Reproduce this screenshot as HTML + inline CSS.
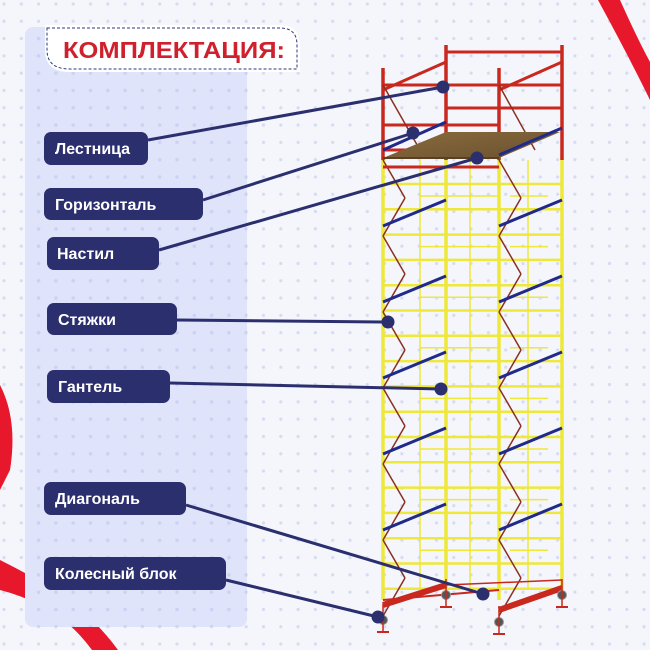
<!DOCTYPE html>
<html><head><meta charset="utf-8"><style>
html,body{margin:0;padding:0;background:#f4f6fc;}
svg{display:block}
</style></head><body>
<svg id="s" width="650" height="650" viewBox="0 0 650 650" xmlns="http://www.w3.org/2000/svg">
<defs>
<pattern id="dots" width="17.3" height="17.3" patternUnits="userSpaceOnUse"><circle cx="4" cy="4" r="1.6" fill="#d6dbf1"/></pattern>
<pattern id="dots2" width="17.3" height="17.3" patternUnits="userSpaceOnUse"><circle cx="4" cy="4" r="1.8" fill="#c6cdf0"/></pattern>
<linearGradient id="wood" x1="0" y1="0" x2="1" y2="1"><stop offset="0" stop-color="#8a6a3c"/><stop offset="1" stop-color="#6a5230"/></linearGradient>
</defs>
<rect width="650" height="650" fill="#f4f6fc"/>
<rect width="650" height="650" fill="url(#dots)"/>
<path d="M598 0 L620 0 Q638 40 650 62 L650 100 Q628 55 598 0Z" fill="#e8182c"/>
<path d="M0 385 Q18 420 10 470 L0 490Z" fill="#e8182c"/>
<path d="M0 560 Q40 580 70 600 Q100 625 118 650 L92 650 Q70 620 40 605 Q20 595 0 590Z" fill="#e8182c"/>
<rect x="25" y="27" width="222" height="600" rx="8" fill="#dfe4fb"/>
<rect x="25" y="27" width="222" height="600" rx="8" fill="url(#dots2)" opacity="0.8"/>
<path d="M45 25 L280 25 Q300 25 300 45 L300 72 L70 72 Q45 72 45 50Z" fill="#fff"/>
<path d="M47 28 L280 28 Q297 28 297 45 L297 69 L70 69 Q47 69 47 50Z" fill="none" stroke="#2c3a7a" stroke-width="1" stroke-dasharray="3,2"/>
<text x="63" y="58" font-family="Liberation Sans, sans-serif" font-weight="bold" font-size="23" fill="#d0202e" textLength="222" lengthAdjust="spacingAndGlyphs">КОМПЛЕКТАЦИЯ:</text>
<g id="scaf"></g>
<g id="lines" stroke="#2c2f6e" stroke-width="3" fill="#2c2f6e">
<line x1="148" y1="140" x2="443" y2="87"/><circle cx="443" cy="87" r="5"/>
<line x1="203" y1="200" x2="413" y2="133"/><circle cx="413" cy="133" r="5"/>
<line x1="159" y1="250" x2="477" y2="158"/><circle cx="477" cy="158" r="5"/>
<line x1="177" y1="320" x2="388" y2="322"/><circle cx="388" cy="322" r="5"/>
<line x1="170" y1="383" x2="441" y2="389"/><circle cx="441" cy="389" r="5"/>
<line x1="186" y1="505" x2="483" y2="594"/><circle cx="483" cy="594" r="5"/>
<line x1="226" y1="580" x2="378" y2="617"/><circle cx="378" cy="617" r="5"/>
</g>
<g font-family="Liberation Sans, sans-serif" font-weight="bold" font-size="16" fill="#fff">
<rect x="44" y="132" width="104" height="33" rx="7" fill="#2c2f6e"/><text x="55" y="154">Лестница</text>
<rect x="44" y="188" width="159" height="32" rx="7" fill="#2c2f6e"/><text x="55" y="210">Горизонталь</text>
<rect x="47" y="237" width="112" height="33" rx="7" fill="#2c2f6e"/><text x="57" y="259">Настил</text>
<rect x="47" y="303" width="130" height="32" rx="7" fill="#2c2f6e"/><text x="58" y="325">Стяжки</text>
<rect x="47" y="370" width="123" height="33" rx="7" fill="#2c2f6e"/><text x="58" y="392">Гантель</text>
<rect x="44" y="482" width="142" height="33" rx="7" fill="#2c2f6e"/><text x="55" y="504">Диагональ</text>
<rect x="44" y="557" width="182" height="33" rx="7" fill="#2c2f6e"/><text x="55" y="579">Колесный блок</text>
</g>
</svg>
<script>
var g=document.getElementById('scaf'),h='';
function L(x1,y1,x2,y2,c,w){h+='<line x1="'+x1+'" y1="'+y1+'" x2="'+x2+'" y2="'+y2+'" stroke="'+c+'" stroke-width="'+w+'"/>';}
var Y='#eee83a',R='#c8281e',B='#1f2a8a',BR='#8a3020';
for(var y=184;y<=590;y+=25.3){L(383,y,499,y,Y,2.5);L(499,y,562,y,Y,2.5);}
for(var y=196;y<=590;y+=50.6){L(420,y,446,y,Y,1.5);L(446,y,499,y,Y,1.5);L(510,y,548,y,Y,1.5);}
[383,446,499,562].forEach(function(x){L(x,155,x,600,Y,3.5);});
[420,470,528].forEach(function(x){L(x,160,x,590,Y,1.5);});
for(var y=160;y<590;y+=76){L(383,y,405,y+38,BR,1.5);L(405,y+38,383,y+76,BR,1.5);L(499,y,521,y+38,BR,1.5);L(521,y+38,499,y+76,BR,1.5);}
for(var y=226;y<600;y+=76){L(383,y,446,y-26,B,3);L(499,y,562,y-26,B,3);}
[383,446,499,562].forEach(function(x){var t=(x==446||x==562)?45:68;L(x,t,x,160,R,3.5);});
[70,110,135,152].forEach(function(y){L(383,y+15,499,y+15,R,3);});
[52,85,108].forEach(function(y){L(446,y,562,y,R,3);});
L(383,90,446,62,R,3);L(499,90,562,62,R,3);
L(383,85,420,150,BR,1.5);L(499,85,535,150,BR,1.5);
h+='<polygon points="383,158 499,158 560,132 446,132" fill="url(#wood)"/>';
L(383,158,499,158,'#5a4020',2);
L(499,155,562,128,B,3);L(383,150,446,122,B,3);
L(383,605,446,585,R,6);L(499,610,562,588,R,6);L(383,600,499,590,R,2);L(446,585,562,580,R,1.5);
[[383,620],[499,622],[446,595],[562,595]].forEach(function(p){h+='<circle cx="'+p[0]+'" cy="'+p[1]+'" r="4.5" fill="#555" stroke="#999"/>';L(p[0]-6,p[1]+12,p[0]+6,p[1]+12,R,2);L(p[0],p[1]-16,p[0],p[1]+12,R,1.5);});
g.innerHTML=h;
</script>
</body></html>
